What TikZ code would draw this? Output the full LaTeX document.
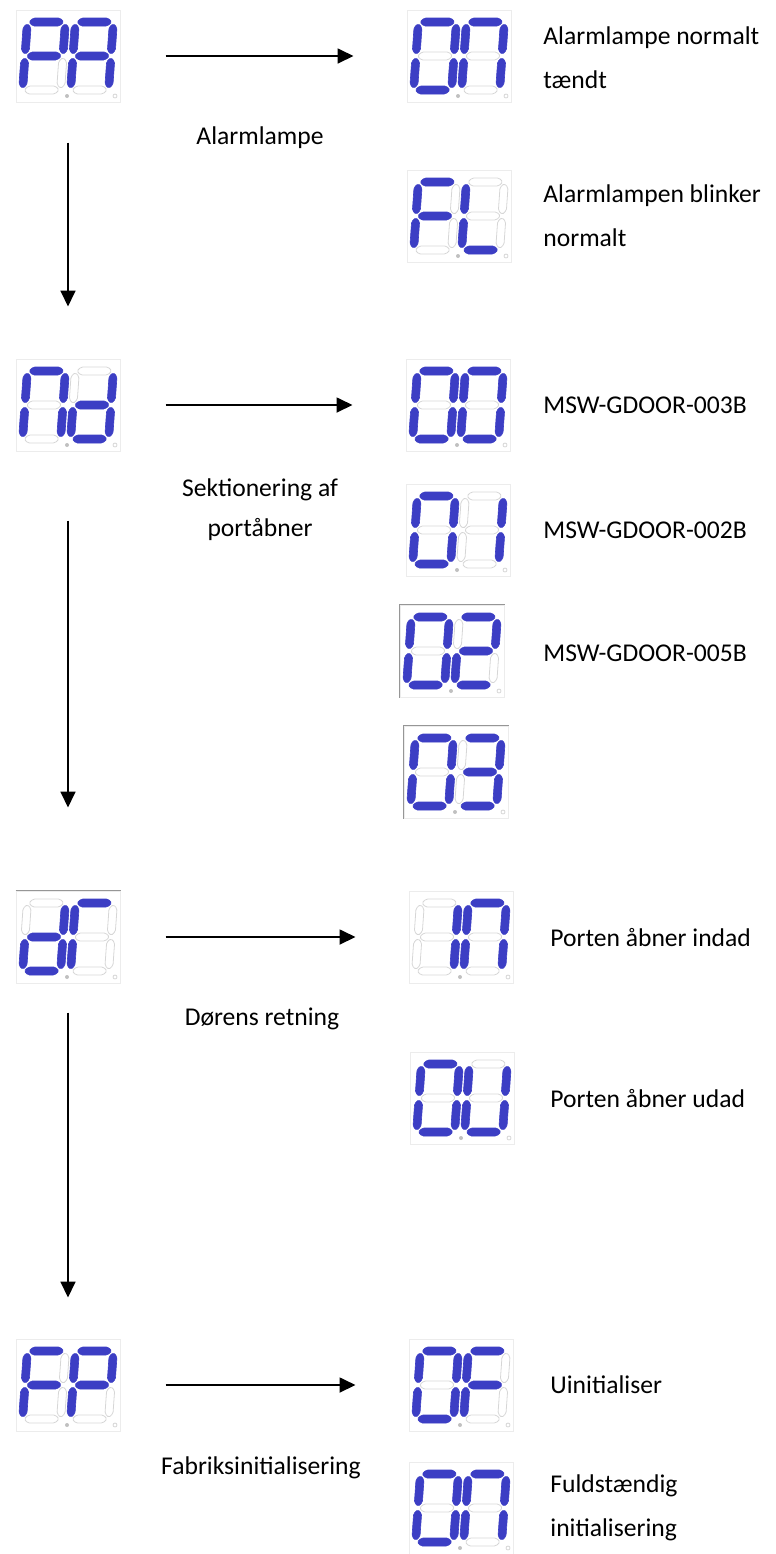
\documentclass[tikz,border=0pt]{standalone}
\usepackage{fontspec}
\setmainfont{Carlito}
\usetikzlibrary{arrows.meta}

\definecolor{lcdblue}{RGB}{60,62,196}
\definecolor{lcdgray}{RGB}{214,214,214}
\definecolor{boxgray}{RGB}{236,236,236}
\definecolor{edgegray}{RGB}{150,150,150}

% segments: style, from, to, position
\newcommand{\HSeg}[4]{\path[#1] (#2+1.5,#4) -- (#2+5.5,#4-4) -- (#3-5.5,#4-4) -- (#3-1.5,#4) -- (#3-5.5,#4+4) -- (#2+5.5,#4+4) -- cycle;}
\newcommand{\VSeg}[4]{\path[#1] (#2,#3+1.5) -- (#2+4,#3+5.5) -- (#2+4,#4-5.5) -- (#2,#4-1.5) -- (#2-4,#4-5.5) -- (#2-4,#3+5.5) -- cycle;}
% seven segments a..g, 1 = lit
\def\LcdSegs#1#2#3#4#5#6#7{%
  \HSeg{Seg#1}{-19}{19}{-34}%
  \VSeg{Seg#2}{19}{-34}{0}%
  \VSeg{Seg#3}{19}{0}{34}%
  \HSeg{Seg#4}{-19}{19}{34}%
  \VSeg{Seg#5}{-19}{0}{34}%
  \VSeg{Seg#6}{-19}{-34}{0}%
  \HSeg{Seg#7}{-19}{19}{0}}
% panel: name, centre, left digit, right digit
\newcommand{\LcdPanel}[4]{%
  \node[PanelStyle] (#1) at #2 {};
  \begin{scope}[shift={#2}]
    \begin{scope}[shift={(-24,0)}, xslant=0.07]\LcdSegs#3\end{scope}
    \begin{scope}[shift={(24,0)}, xslant=0.07]\LcdSegs#4\end{scope}
    \fill[edgegray!60] (-1,40) circle[radius=2];
    \draw[lcdgray, line width=0.4pt] (47,40) circle[radius=2];
  \end{scope}}

\begin{document}
\begin{tikzpicture}[x=0.5pt, y=-0.5pt]
\tikzset{PanelStyle/.style = {draw=boxgray, line width=0.5pt, minimum width=52pt, minimum height=46pt, inner sep=0pt},
  Seg1/.style = {fill=lcdblue, draw=lcdblue, line width=0.3pt, rounded corners=0.8pt},
  Seg0/.style = {draw=lcdgray, line width=0.4pt, rounded corners=0.8pt},
  EdgeStyle/.style = {draw=edgegray, line width=0.6pt},
  ArrowStyle/.style = {-{Triangle[length=8pt, width=7.5pt]}, line width=0.9pt},
  LabelStyle/.style = {align=center, inner sep=0pt, font=\fontsize{12.8}{20}\selectfont},
  NoteStyle/.style = {anchor=west, align=left, inner sep=0pt, font=\fontsize{12.8}{22}\selectfont}
}
\useasboundingbox (0,0) rectangle (776,1554);

    % Menu panels on the left
    \LcdPanel{pa}{(68,56)}{1100111}{1110111}
    \LcdPanel{nd}{(68,405)}{1110110}{0111101}
    \LcdPanel{dr}{(68,937)}{0111101}{1000110}
    \LcdPanel{fp}{(68,1385)}{1000111}{1100111}

    % Value panels on the right
    \LcdPanel{on}{(459,56)}{1111110}{1110110}
    \LcdPanel{fl}{(459,216)}{1000111}{0001110}
    \LcdPanel{v00}{(458,405)}{1111110}{1111110}
    \LcdPanel{v01}{(458,530)}{1111110}{0110000}
    \LcdPanel{v02}{(452,651)}{1111110}{1101101}
    \LcdPanel{v03}{(456,772)}{1111110}{1111001}
    \LcdPanel{in}{(461,937)}{0110000}{1110110}
    \LcdPanel{ou}{(462,1098)}{1111110}{0111110}
    \LcdPanel{of}{(461,1385)}{1111110}{1000111}
    \LcdPanel{on2}{(461,1508)}{1111110}{1110110}

    \draw[EdgeStyle] (v02.south west) |- (v02.north east);
    \draw[EdgeStyle] (v03.south west) |- (v03.north east);
    \draw[EdgeStyle] (dr.north west) -- (dr.north east);

    % Arrows
    \draw[ArrowStyle, shorten <=22.5pt, shorten >=26.5pt] (pa) -- (on);
    \draw[ArrowStyle, shorten <=22.5pt, shorten >=26.5pt] (nd) -- (v00);
    \draw[ArrowStyle, shorten <=22.5pt, shorten >=26.5pt] (dr) -- (in);
    \draw[ArrowStyle, shorten <=22.5pt, shorten >=26.5pt] (fp) -- (of);
    \draw[ArrowStyle, shorten <=20pt, shorten >=26pt] (pa) -- (nd);
    \draw[ArrowStyle, shorten <=34.5pt, shorten >=41.5pt] (nd) -- (dr);
    \draw[ArrowStyle, shorten <=14.5pt, shorten >=20.5pt] (dr) -- (fp);

    % Menu names
    \node[LabelStyle] (lpa) at (260,138)  {Alarmlampe};
    \node[LabelStyle] (lnd) at (260,510)  {Sektionering af\\portåbner};
    \node[LabelStyle] (ldr) at (262,1019) {Dørens retning};
    \node[LabelStyle] (lfp) at (261,1468) {Fabriksinitialisering};

    % Value notes
    \node[NoteStyle] (non)  at (543,58)   {Alarmlampe normalt\\tændt};
    \node[NoteStyle] (nfl)  at (543,216)  {Alarmlampen blinker\\normalt};
    \node[NoteStyle] (n00)  at (543,405)  {MSW-GDOOR-003B};
    \node[NoteStyle] (n01)  at (543,530)  {MSW-GDOOR-002B};
    \node[NoteStyle] (n02)  at (543,653)  {MSW-GDOOR-005B};
    \node[NoteStyle] (nin)  at (550,938)  {Porten åbner indad};
    \node[NoteStyle] (nou)  at (550,1099) {Porten åbner udad};
    \node[NoteStyle] (nof)  at (550,1385) {Uinitialiser};
    \node[NoteStyle] (non2) at (550,1508) {Fuldstændig\\initialisering};
\end{tikzpicture}
\end{document}
